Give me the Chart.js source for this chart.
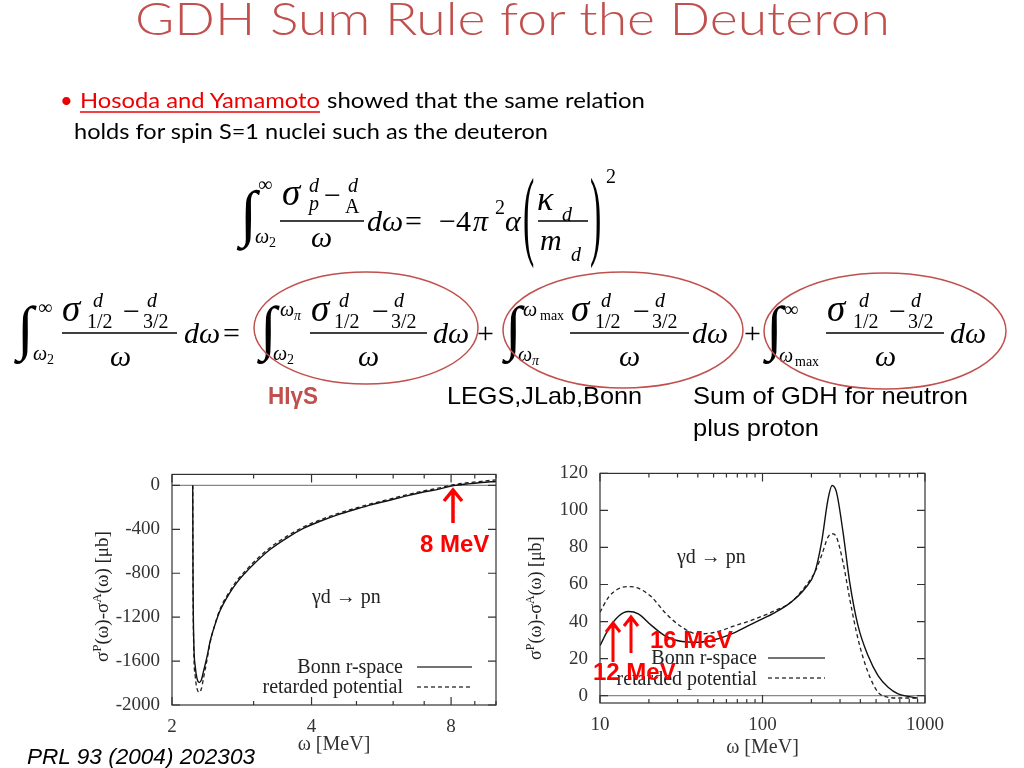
<!DOCTYPE html>
<html>
<head>
<meta charset="utf-8">
<title>GDH Sum Rule for the Deuteron</title>
<script src="https://cdn.jsdelivr.net/npm/chart.js@4.4.7/dist/chart.umd.min.js"></script>
<style>
  html, body { margin: 0; padding: 0; background: #fff; }
  #slide { position: relative; width: 1024px; height: 768px; overflow: hidden; background: #fff; }
  .box { position: absolute; }
  #leftBox { left: 80px; top: 451px; width: 427px; height: 317px; }
  #rightBox { left: 515px; top: 450px; width: 440px; height: 318px; }
  #overlay { position: absolute; left: 0; top: 0; pointer-events: none; }
  .m { font-family: "Liberation Serif", "DejaVu Serif", serif; fill: #000; }
  .b { font-size: 30px; }
  .g { font-size: 37px; }
  .s { font-size: 20px; }
  .xs { font-size: 14px; }
  .i { font-style: italic; }
  .sans { font-family: "Liberation Sans", Arial, sans-serif; }
  .cal { font-family: Lato, "Open Sans", sans-serif; font-size: 22px; }
  .ser { font-family: "Liberation Serif", serif; fill: #222; }
  .red { font-family: "Liberation Sans", Arial, sans-serif; font-weight: bold; font-size: 24px; fill: #f00; }
</style>
</head>
<body>
<div id="slide">
  <div class="box" id="leftBox"><canvas id="lowChart"></canvas></div>
  <div class="box" id="rightBox"><canvas id="highChart"></canvas></div>

  <svg id="overlay" width="1024" height="768" viewBox="0 0 1024 768">
    <!-- title and bullet -->
    <text x="135" y="35" font-family="Lato, 'Open Sans', sans-serif" font-weight="300" font-size="46" fill="#c0504d"
          textLength="755" lengthAdjust="spacingAndGlyphs">GDH Sum Rule for the Deuteron</text>
    <text x="60" y="108" class="cal" fill="#e00">•</text>
    <text x="80" y="108" class="cal" fill="#e00" textLength="240" lengthAdjust="spacingAndGlyphs">Hosoda and Yamamoto</text>
    <line x1="80" x2="320" y1="112" y2="112" stroke="#e00" stroke-width="1.5"/>
    <text x="327" y="108" class="cal" fill="#000" textLength="318" lengthAdjust="spacingAndGlyphs">showed that the same relation</text>
    <text x="74" y="139" class="cal" fill="#000" textLength="474" lengthAdjust="spacingAndGlyphs">holds for spin S=1 nuclei such as the deuteron</text>

    <!-- first formula -->
    <g class="m">
      <text x="240" y="234" font-size="62" class="i">∫</text>
      <text x="258" y="191" class="s">∞</text>
      <text x="255" y="243" class="s i">ω</text><text x="269" y="247" class="xs">2</text>
      <text x="282" y="205" class="g i">σ</text>
      <text x="309" y="192" class="s i">d</text>
      <text x="309" y="210" class="s i">p</text>
      <text x="324" y="205" class="b">−</text>
      <text x="348" y="192" class="s i">d</text>
      <text x="345" y="213" class="s">A</text>
      <line x1="280" x2="364" y1="221" y2="221" stroke="#000" stroke-width="1.3"/>
      <text x="311" y="247" class="b i">ω</text>
      <text x="367" y="231" class="b i">dω</text>
      <text x="405" y="231" class="b">=</text>
      <text x="439" y="231" class="b">−4</text>
      <text x="473" y="231" class="b i">π</text>
      <text x="495" y="214" class="s">2</text>
      <text x="505" y="231" class="b i">α</text>
      <text transform="translate(523,247) scale(0.34,1)" font-size="100">(</text>
      <text x="537" y="210" font-size="34" class="i">κ</text>
      <text x="562" y="221" class="s i">d</text>
      <line x1="538" x2="588" y1="221" y2="221" stroke="#000" stroke-width="1.3"/>
      <text x="540" y="250" class="b i">m</text>
      <text x="571" y="261" class="s i">d</text>
      <text transform="translate(590,247) scale(0.34,1)" font-size="100">)</text>
      <text x="606" y="183" class="s">2</text>
    </g>

    <!-- second formula -->
    <g class="m">
      <text x="17" y="348" font-size="60" class="i">∫</text>
      <text x="38" y="314" class="s">∞</text>
      <text x="33" y="360" class="s i">ω</text><text x="47" y="364" class="xs">2</text>
      <text x="62" y="321" class="g i">σ</text>
      <text x="93" y="307" class="s i">d</text>
      <text x="87" y="328" class="s">1/2</text>
      <text x="123" y="321" class="b">−</text>
      <text x="147" y="307" class="s i">d</text>
      <text x="143" y="328" class="s">3/2</text>
      <line x1="62" x2="177" y1="333" y2="333" stroke="#000" stroke-width="1.3"/>
      <text x="110" y="366" class="b i">ω</text>
      <text x="184" y="343" class="b i">dω</text>
      <text x="223" y="343" class="b">=</text>

      <text x="260" y="348" font-size="60" class="i">∫</text>
      <text x="280" y="316" class="s i">ω</text><text x="294" y="320" class="xs i">π</text>
      <text x="273" y="360" class="s i">ω</text><text x="287" y="364" class="xs">2</text>
      <text x="311" y="321" class="g i">σ</text>
      <text x="339" y="307" class="s i">d</text>
      <text x="334" y="328" class="s">1/2</text>
      <text x="372" y="321" class="b">−</text>
      <text x="394" y="307" class="s i">d</text>
      <text x="391" y="328" class="s">3/2</text>
      <line x1="310" x2="427" y1="333" y2="333" stroke="#000" stroke-width="1.3"/>
      <text x="358" y="366" class="b i">ω</text>
      <text x="433" y="343" class="b i">dω</text>
      <text x="477" y="343" class="b">+</text>

      <text x="505" y="348" font-size="60" class="i">∫</text>
      <text x="523" y="316" class="s i">ω</text><text x="540" y="320" class="xs">max</text>
      <text x="518" y="361" class="s i">ω</text><text x="532" y="365" class="xs i">π</text>
      <text x="571" y="321" class="g i">σ</text>
      <text x="601" y="307" class="s i">d</text>
      <text x="595" y="328" class="s">1/2</text>
      <text x="633" y="321" class="b">−</text>
      <text x="655" y="307" class="s i">d</text>
      <text x="652" y="328" class="s">3/2</text>
      <line x1="570" x2="689" y1="333" y2="333" stroke="#000" stroke-width="1.3"/>
      <text x="619" y="366" class="b i">ω</text>
      <text x="692" y="343" class="b i">dω</text>
      <text x="744" y="343" class="b">+</text>

      <text x="766" y="348" font-size="60" class="i">∫</text>
      <text x="784" y="316" class="s">∞</text>
      <text x="779" y="362" class="s i">ω</text><text x="795" y="366" class="xs">max</text>
      <text x="827" y="321" class="g i">σ</text>
      <text x="859" y="307" class="s i">d</text>
      <text x="853" y="328" class="s">1/2</text>
      <text x="889" y="321" class="b">−</text>
      <text x="911" y="307" class="s i">d</text>
      <text x="908" y="328" class="s">3/2</text>
      <line x1="826" x2="944" y1="333" y2="333" stroke="#000" stroke-width="1.3"/>
      <text x="875" y="366" class="b i">ω</text>
      <text x="950" y="343" class="b i">dω</text>
    </g>

    <ellipse cx="366" cy="328" rx="112" ry="56" fill="none" stroke="#c0504d" stroke-width="1.5"/>
    <ellipse cx="623" cy="330" rx="120" ry="58" fill="none" stroke="#c0504d" stroke-width="1.5"/>
    <ellipse cx="885" cy="331" rx="121" ry="58" fill="none" stroke="#c0504d" stroke-width="1.5"/>

    <text x="268" y="404" class="sans" font-weight="bold" font-size="24" fill="#c0504d" textLength="50" lengthAdjust="spacingAndGlyphs">HIγS</text>
    <text x="447" y="404" class="sans" font-size="24" fill="#000" textLength="195" lengthAdjust="spacingAndGlyphs">LEGS,JLab,Bonn</text>
    <text x="693" y="404" class="sans" font-size="24" fill="#000" textLength="275" lengthAdjust="spacingAndGlyphs">Sum of GDH for neutron</text>
    <text x="693" y="436" class="sans" font-size="24" fill="#000" textLength="126" lengthAdjust="spacingAndGlyphs">plus proton</text>

    <!-- left panel extras -->
    <text transform="translate(108,662) rotate(-90)" class="ser" font-size="19">σ<tspan dy="-7" font-size="13">P</tspan><tspan dy="7">(ω)-σ</tspan><tspan dy="-7" font-size="13">A</tspan><tspan dy="7">(ω) [μb]</tspan></text>
    <text x="312" y="603" class="ser" font-size="20">γd → pn</text>
    <text x="403" y="673" class="ser" font-size="20" text-anchor="end">Bonn r-space</text>
    <text x="403" y="693" class="ser" font-size="20" text-anchor="end">retarded potential</text>
    <line x1="417" x2="472" y1="667" y2="667" stroke="#444" stroke-width="1.5"/>
    <line x1="417" x2="472" y1="687" y2="687" stroke="#444" stroke-width="1.3" stroke-dasharray="4,3"/>
    <path d="M453 523 L453 491 M444 501 L453 490 L462 501" stroke="#f00" stroke-width="3.5" fill="none"/>
    <text x="420" y="552" class="red">8 MeV</text>

    <!-- right panel extras -->
    <text transform="translate(541,660) rotate(-90)" class="ser" font-size="18">σ<tspan dy="-7" font-size="12">P</tspan><tspan dy="7">(ω)-σ</tspan><tspan dy="-7" font-size="12">A</tspan><tspan dy="7">(ω) [μb]</tspan></text>
    <text x="677" y="563" class="ser" font-size="20">γd → pn</text>
    <text x="757" y="664" class="ser" font-size="20" text-anchor="end">Bonn r-space</text>
    <text x="757" y="685" class="ser" font-size="20" text-anchor="end">retarded potential</text>
    <line x1="768" x2="825" y1="658" y2="658" stroke="#444" stroke-width="1.5"/>
    <line x1="768" x2="825" y1="678" y2="678" stroke="#444" stroke-width="1.3" stroke-dasharray="4,3"/>
    <path d="M613 662 L613 624 M606 632 L613 623 L620 632" stroke="#f00" stroke-width="3" fill="none"/>
    <path d="M631 653 L631 618 M624 626 L631 617 L638 626" stroke="#f00" stroke-width="3" fill="none"/>
    <text x="650" y="648" class="red">16 MeV</text>
    <text x="593" y="680" class="red">12 MeV</text>

    <text x="27" y="764" class="sans" font-style="italic" font-size="22" fill="#000" textLength="228" lengthAdjust="spacingAndGlyphs">PRL 93 (2004) 202303</text>
  </svg>
</div>

<script>
// left panel, 2 - 10 MeV
var omegaLow = [2.217, 2.220, 2.228, 2.245, 2.265, 2.29, 2.315, 2.34, 2.38, 2.42, 2.48, 2.54, 2.65, 2.76, 2.88, 3.0, 3.26, 3.55, 3.85, 4.2, 4.55, 5.0, 5.4, 5.9, 6.35, 6.9, 7.5, 8.1, 8.7, 9.3, 10];
var bonnLow = [0, -800, -1400, -1650, -1760, -1795, -1770, -1690, -1560, -1410, -1260, -1140, -995, -885, -795, -718, -582, -475, -390, -322, -268, -215, -175, -135, -100, -65, -36, -2, 14, 26, 36];
var retardedLow = [0, -850, -1480, -1740, -1850, -1885, -1850, -1750, -1590, -1420, -1255, -1125, -980, -868, -778, -700, -565, -460, -377, -310, -257, -205, -165, -125, -90, -55, -26, 6, 24, 37, 50];
var xTicksLow = [2, 3, 4, 5, 6, 7, 8, 9, 10];
var xLabelsLow = [2, 4, 8];
var yTicksLow = [-2000, -1600, -1200, -800, -400, 0];

// right panel, 10 - 1000 MeV
var omegaHigh = [10, 11.3, 13, 15, 17.2, 20.8, 25, 32, 40, 51, 68, 90, 120, 150, 182, 210, 231, 253, 268, 285, 313, 344, 387, 446, 514, 593, 683, 786, 905];
var bonnHigh = [27, 36, 42.9, 45.4, 44.1, 37.8, 32.4, 29.2, 28.8, 30.3, 34.2, 39.6, 45, 50.5, 57.7, 66.7, 82.9, 106, 113.5, 110, 88.3, 61.3, 37.8, 21.6, 10.8, 4.5, 0.9, -0.4, -1.4];
var retardedHigh = [45, 53.2, 57.7, 58.9, 58, 53.2, 45, 36.9, 33.3, 34.2, 37.8, 41.4, 46, 50.5, 58.6, 66.7, 75.7, 85.6, 87.4, 85.6, 72, 52.3, 30.6, 12.6, 1.8, -0.9, -1.3, -1.3, -1.4];
var xTicksHigh = [10, 20, 30, 40, 50, 60, 70, 80, 90, 100, 200, 300, 400, 500, 600, 700, 800, 900, 1000];
var xLabelsHigh = [10, 100, 1000];
var yTicksHigh = [0, 20, 40, 60, 80, 100, 120];

function pts(xs, ys) {
    return xs.map(function (x, i) { return { x: x, y: ys[i] }; });
}

// box round the plot, zero line and inward ticks on all four sides
var framePlugin = {
    id: "frame",
    beforeDatasetsDraw: function (chart) {
        var ctx = chart.ctx, a = chart.chartArea;
        var y0 = chart.scales.y.getPixelForValue(0);
        ctx.save();
        ctx.strokeStyle = "#888";
        ctx.lineWidth = 1.4;
        ctx.beginPath();
        ctx.moveTo(a.left, y0);
        ctx.lineTo(a.right, y0);
        ctx.stroke();
        ctx.restore();
    },
    afterDatasetsDraw: function (chart, args, opts) {
        var ctx = chart.ctx, a = chart.chartArea;
        var xs = chart.scales.x, ys = chart.scales.y;
        ctx.save();
        ctx.strokeStyle = "#333";
        ctx.lineWidth = 1.2;
        ctx.strokeRect(a.left, a.top, a.right - a.left, a.bottom - a.top);
        ctx.beginPath();
        xs.ticks.forEach(function (t) {
            var px = xs.getPixelForValue(t.value);
            var len = opts.major.indexOf(t.value) >= 0 ? 8 : 4;
            ctx.moveTo(px, a.bottom); ctx.lineTo(px, a.bottom - len);
            ctx.moveTo(px, a.top); ctx.lineTo(px, a.top + len);
        });
        ys.ticks.forEach(function (t) {
            var py = ys.getPixelForValue(t.value);
            ctx.moveTo(a.left, py); ctx.lineTo(a.left + 8, py);
            ctx.moveTo(a.right, py); ctx.lineTo(a.right - 8, py);
        });
        ctx.stroke();
        ctx.restore();
    }
};

function makeChart(id, c) {
    var serif = { family: "'Liberation Serif', serif", size: 19 };
    return new Chart(document.getElementById(id), {
        type: "line",
        data: {
            datasets: [
                { label: "Bonn r-space", data: pts(c.omega, c.bonn), borderColor: "#111", borderWidth: 1.4,
                  pointRadius: 0, cubicInterpolationMode: "monotone" },
                { label: "retarded potential", data: pts(c.omega, c.retarded), borderColor: "#222", borderWidth: 1.3,
                  borderDash: [4, 3], pointRadius: 0, cubicInterpolationMode: "monotone" }
            ]
        },
        options: {
            responsive: true,
            maintainAspectRatio: false,
            animation: false,
            layout: { padding: c.padding },
            plugins: { legend: { display: false }, tooltip: { enabled: false }, frame: { major: c.xLabels } },
            scales: {
                x: {
                    type: "logarithmic", min: c.xMin, max: c.xMax,
                    afterBuildTicks: function (s) { s.ticks = c.xTicks.map(function (v) { return { value: v }; }); },
                    afterFit: function (s) { s.height = c.xHeight; },
                    grid: { display: false, drawTicks: false },
                    border: { display: false },
                    ticks: {
                        autoSkip: false, maxRotation: 0, padding: 11, color: "#333", font: serif,
                        callback: function (v) { return c.xLabels.indexOf(v) >= 0 ? String(v) : ""; }
                    },
                    title: { display: true, text: "ω [MeV]", color: "#333",
                             font: { family: "'Liberation Serif', serif", size: 20 },
                             padding: { top: 0, bottom: c.titlePad } }
                },
                y: {
                    min: c.yMin, max: c.yMax,
                    afterBuildTicks: function (s) { s.ticks = c.yTicks.map(function (v) { return { value: v }; }); },
                    afterFit: function (s) { s.width = c.yWidth; },
                    grid: { display: false, drawTicks: false },
                    border: { display: false },
                    ticks: { padding: 12, color: "#333", font: serif,
                             callback: function (v) { return String(v); } }
                }
            }
        },
        plugins: [framePlugin]
    });
}

makeChart("lowChart", {
    omega: omegaLow, bonn: bonnLow, retarded: retardedLow,
    xTicks: xTicksLow, xLabels: xLabelsLow, yTicks: yTicksLow,
    xMin: 2, xMax: 10, yMin: -2000, yMax: 100,
    padding: { top: 0, right: 5, left: 0, bottom: 0 },
    xHeight: 63, yWidth: 92, titlePad: 11
});

makeChart("highChart", {
    omega: omegaHigh, bonn: bonnHigh, retarded: retardedHigh,
    xTicks: xTicksHigh, xLabels: xLabelsHigh, yTicks: yTicksHigh,
    xMin: 10, xMax: 1000, yMin: -4, yMax: 120,
    padding: { top: 0, right: 0, left: 0, bottom: 0 },
    xHeight: 65, yWidth: 85, titlePad: 8
});
</script>
</body>
</html>
